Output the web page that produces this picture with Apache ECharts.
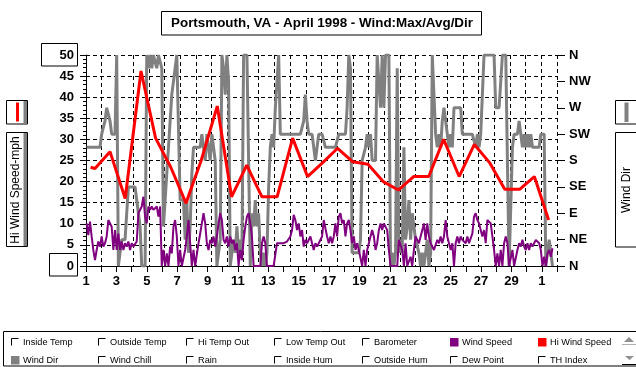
<!DOCTYPE html>
<html><head><meta charset="utf-8">
<script src="https://cdn.jsdelivr.net/npm/echarts@6/dist/echarts.min.js"></script>
<style>html,body{margin:0;padding:0;background:#fff}#c{width:636px;height:367px}</style>
</head><body><div id="c"></div>
<script>
const FONT = '"Liberation Sans", Arial, sans-serif';
const titleText = 'Portsmouth, VA - April 1998 - Wind:Max/Avg/Dir';
const leftAxisName = 'Hi Wind Speed-mph';
const rightAxisName = 'Wind Dir';
const dayTickLabels = ['1','3','5','7','9','11','13','15','17','19','21','23','25','27','29','1'];
const dirLabels = ['N','NE','E','SE','S','SW','W','NW','N'];

// Hi wind speed (mph), one value per day; times in days since Apr 1 00:00
const hiTimes = [0.30,0.59,1.58,2.58,3.62,4.58,5.58,6.58,7.58,8.64,9.58,10.58,11.58,12.58,13.6,14.58,15.58,16.56,17.56,18.56,19.56,20.56,21.56,22.56,23.54,24.56,25.56,26.56,27.56,28.56,29.51,30.45];
const hiSpeed = [23.4,23.1,27.1,16.0,46.2,30.3,23.4,14.9,25.0,37.9,16.4,23.9,16.4,16.4,30.3,21.2,24.5,27.9,24.7,24.1,20.0,18.0,21.2,21.2,30.0,21.2,28.8,24.5,18.2,18.2,21.2,10.9];

// Sampled records: first sample time and spacing (days)
const sampleStart = 0.042;
const sampleStep = 0.1099;

// Wind speed (mph)
const windSpeed = [
10.1,7.3,10.5,7.0,3.8,1.4,3.8,5.8,4.6,7.0,
4.6,5.4,7.0,10.9,10.9,9.3,3.8,8.5,3.8,7.7,
3.8,5.8,3.8,5.4,4.6,5.8,3.8,5.4,4.6,5.0,
5.8,12.5,12.5,14.1,16.4,11.7,10.1,14.1,13.3,14.1,
13.3,13.3,14.1,11.7,14.1,0,3.8,0,3.0,0,
4.6,3.0,9.3,10.9,7.0,0,3.8,0,0,3.8,
7.0,10.9,5.4,0,3.8,0,0,5.4,7.7,10.1,
12.5,10.1,5.4,3.8,6.2,5.4,7.0,4.6,7.0,10.1,
12.5,10.9,6.2,5.4,7.0,4.6,7.0,5.4,6.2,3.8,
5.4,0,3.8,1.4,6.2,9.3,11.7,12.5,10.1,7.0,
0,0,0,0,0,5.4,7.0,5.4,0,0,
0,0,0,0,5.4,5.4,5.4,5.4,5.4,5.4,
5.8,5.8,7.0,8.5,12.1,10.9,8.5,10.1,7.0,8.5,
4.6,6.2,5.4,5.4,7.0,5.4,3.8,5.4,4.6,5.4,
5.4,7.0,10.9,10.9,7.0,5.4,7.0,5.4,7.0,10.1,
7.0,11.7,12.5,10.1,10.9,7.0,10.1,10.9,8.5,5.4,
7.0,3.8,5.4,3.8,3.8,0,3.8,0,3.8,5.4,
7.0,8.5,7.0,3.8,5.4,8.5,10.1,8.5,10.1,10.1,
8.5,3.8,0,0,0,0,0,6.2,6.2,3.8,
0,5.4,0,0,2.2,0,3.8,7.0,7.0,5.4,
7.0,8.5,10.1,6.2,10.1,7.0,5.4,5.4,3.8,3.8,
6.2,5.4,7.0,5.4,7.0,10.9,7.0,5.4,3.8,5.4,
0,5.4,7.0,5.4,7.0,6.2,6.2,5.4,7.0,5.4,
5.4,7.7,11.7,12.5,10.9,10.1,8.5,7.0,8.5,5.4,
10.9,10.9,10.1,7.0,3.8,0,3.0,0,3.8,0,
5.4,7.0,5.4,0,0,3.8,0,0,3.8,5.4,
4.6,6.2,4.6,3.8,5.4,3.8,5.4,4.6,5.4,6.2,
6.2,5.4,3.8,0,2.2,0,3.0,3.8,2.2,4.2
];

// Wind direction (degrees, 0 = N at bottom, 360 = N at top)
const windDir = [
202.5,202.5,202.5,202.5,202.5,202.5,202.5,202.5,202.5,225,
225,247.5,270,270,247.5,225,225,225,360,0,
22.5,45,45,45,45,135,135,135,135,135,
112.5,90,67.5,0,0,0,360,337.5,360,337.5,
360,360,337.5,360,360,337.5,67.5,112.5,157.5,202.5,
247.5,292.5,315,337.5,360,360,112.5,112.5,112.5,45,
112.5,22.5,67.5,157.5,202.5,202.5,202.5,202.5,202.5,225,
202.5,180,225,202.5,180,225,202.5,180,0,22.5,
45,360,337.5,292.5,360,315,0,22.5,45,22.5,
67.5,22.5,45,22.5,360,360,360,360,0,90,
67.5,112.5,67.5,90,22.5,0,22.5,0,22.5,135,
202.5,225,202.5,270,270,360,225,225,225,225,
225,225,225,225,225,225,225,225,225,225,
247.5,292.5,247.5,225,225,225,202.5,180,202.5,225,
225,225,225,202.5,202.5,202.5,202.5,202.5,202.5,202.5,
202.5,225,225,225,225,225,270,360,337.5,22.5,
22.5,22.5,22.5,22.5,45,180,180,202.5,225,202.5,
225,180,180,180,360,360,270,360,270,360,
360,360,0,22.5,0,22.5,337.5,22.5,45,22.5,
202.5,45,67.5,112.5,45,90,67.5,45,45,22.5,
0,22.5,0,22.5,45,0,22.5,360,292.5,225,
202.5,225,202.5,247.5,270,270,225,202.5,225,202.5,
270,270,270,270,270,225,225,225,225,225,
225,225,225,202.5,225,202.5,225,225,360,360,
360,360,360,360,360,270,270,270,270,360,
360,360,360,0,0,202.5,225,225,225,247.5,
225,202.5,225,202.5,225,202.5,225,202.5,202.5,202.5,
202.5,202.5,225,225,225,0,22.5,45,22.5,0
];

const legendRow1 = ['Inside Temp','Outside Temp','Hi Temp Out','Low Temp Out','Barometer','Wind Speed','Hi Wind Speed'];
const legendRow2 = ['Wind Dir','Wind Chill','Rain','Inside Hum','Outside Hum','Dew Point','TH Index'];
const checkedColors = {'Wind Speed':'#800080','Hi Wind Speed':'#ff0000','Wind Dir':'#808080'};

const GRAY = '#808080', PURPLE = '#800080', RED = '#ff0000';

function txt(text, x, y, font, align, valign, extra) {
  return Object.assign({
    type: 'text', x: x, y: y, silent: true,
    style: { text: text, x: 0, y: 0, font: font, fill: '#000',
      align: align, textAlign: align, verticalAlign: valign, textVerticalAlign: valign }
  }, extra || {});
}
function rect(x, y, w, h, fill, stroke, z) {
  return { type: 'rect', silent: true, z: z || 10, shape: { x: x, y: y, width: w, height: h },
    style: { fill: fill, stroke: stroke || null, lineWidth: 1 } };
}

const graphics = [];
// title
graphics.push(rect(161.5, 11.5, 320, 23.5, '#fff', '#000'));
graphics.push(txt(titleText, 322, 23, 'bold 13.4px ' + FONT, 'center', 'middle', { z: 11 }));
// scale boxes
graphics.push(rect(41.5, 43.5, 36, 22.5, 'none', '#000'));
graphics.push(rect(49.5, 253.5, 28, 22.5, 'none', '#000'));
// left icon + name box
graphics.push(rect(6.5, 100.5, 21, 23.5, '#fff', '#000'));
graphics.push(rect(23.5, 101, 3.5, 23, GRAY, null, 11));
graphics.push(rect(16, 102.5, 3, 19, RED, null, 11));
graphics.push(rect(6.5, 132.5, 21, 114, '#fff', '#000'));
graphics.push(rect(23.5, 133, 3.5, 113, GRAY, null, 11));
graphics.push(txt(leftAxisName, 15.5, 190, '12px ' + FONT, 'center', 'middle', { rotation: Math.PI / 2, z: 12 }));
// right icon + name box
graphics.push(rect(615.5, 100.5, 30, 23.5, '#fff', '#000'));
graphics.push(rect(624.5, 102.5, 4, 19.5, GRAY, null, 11));
graphics.push(rect(615.5, 132.5, 30, 114.5, '#fff', '#000'));
graphics.push(txt(rightAxisName, 627, 190, '12px ' + FONT, 'center', 'middle', { rotation: Math.PI / 2, z: 12 }));
// legend panel
graphics.push(rect(3.5, 331.5, 640, 34.5, '#fff', '#000'));
const legendCols = [11, 98, 186, 274, 362, 450, 538];
const legendRowsY = [338, 356];
[legendRow1, legendRow2].forEach(function (row, r) {
  row.forEach(function (name, c) {
    const x = legendCols[c], y = legendRowsY[r];
    if (checkedColors[name]) {
      graphics.push(rect(x, y, 8.5, 8.5, checkedColors[name], null, 11));
    } else {
      graphics.push({ type: 'polyline', silent: true, z: 11,
        shape: { points: [[x + 0.5, y + 7.5], [x + 0.5, y + 0.5], [x + 7.5, y + 0.5]] },
        style: { stroke: '#000', fill: null, lineWidth: 1 } });
    }
    graphics.push(txt(name, x + 12, y + 4.5, '9.2px ' + FONT, 'left', 'middle', { z: 11 }));
  });
});
// scroll arrows
graphics.push({ type: 'polygon', silent: true, z: 11, shape: { points: [[624, 342], [629, 337], [634, 342]] }, style: { fill: '#909090' } });
graphics.push({ type: 'line', silent: true, z: 11, shape: { x1: 622, y1: 344.5, x2: 636, y2: 344.5 }, style: { stroke: '#b0b0b0', lineWidth: 1 } });
graphics.push({ type: 'polygon', silent: true, z: 11, shape: { points: [[625, 356], [634, 356], [629.5, 360]] }, style: { fill: '#909090' } });
graphics.push({ type: 'line', silent: true, z: 11, shape: { x1: 622, y1: 364.5, x2: 636, y2: 364.5 }, style: { stroke: '#000', lineWidth: 1 } });

const labelStyle = { color: '#000', fontWeight: 'bold', fontSize: 13, fontFamily: FONT };

const option = {
  animation: false,
  backgroundColor: '#fff',
  grid: { left: 86, right: 79, top: 55, bottom: 101, containLabel: false },
  xAxis: [
    { type: 'value', min: 0, max: 31, interval: 1, position: 'bottom',
      axisLine: { show: true, onZero: false, lineStyle: { color: '#000', width: 1 } },
      axisTick: { show: true, length: 6, lineStyle: { color: '#000' } },
      axisLabel: Object.assign({ show: true, margin: 9,
        formatter: function (v) { return (v % 2 === 0 && v / 2 < dayTickLabels.length) ? dayTickLabels[v / 2] : ''; } }, labelStyle),
      splitLine: { show: false } },
    { type: 'value', min: 0, max: 30, interval: 1, position: 'top',
      axisLine: { show: false }, axisTick: { show: false }, axisLabel: { show: false },
      splitLine: { show: true, lineStyle: { color: '#000', type: [4, 3], width: 1 } } }
  ],
  yAxis: [
    { type: 'value', min: 0, max: 50, interval: 5, position: 'left',
      axisLine: { show: true, onZero: false, lineStyle: { color: '#000' } },
      axisTick: { show: true, length: 6, lineStyle: { color: '#000' } },
      minorTick: { show: true, splitNumber: 5, length: 3, lineStyle: { color: '#000' } },
      axisLabel: Object.assign({ margin: 12 }, labelStyle),
      splitLine: { show: true, lineStyle: { color: '#000', type: [4, 3], width: 1 } } },
    { type: 'value', min: 0, max: 360, interval: 45, position: 'right',
      axisLine: { show: false, onZero: false },
      axisTick: { show: true, length: 8, lineStyle: { color: '#000' } },
      axisLabel: Object.assign({ margin: 12, formatter: function (v) { return dirLabels[Math.round(v / 45)]; } }, labelStyle),
      splitLine: { show: false } }
  ],
  graphic: { elements: graphics },
  series: [
    { type: 'line', name: 'Wind Dir', xAxisIndex: 0, yAxisIndex: 1, z: 2, silent: true,
      symbol: 'none', showSymbol: false, clip: true,
      lineStyle: { color: GRAY, width: 3, join: 'bevel' },
      data: windDir.map(function (d, i) { return [sampleStart + i * sampleStep, d]; }) },
    { type: 'line', name: 'Wind Speed', xAxisIndex: 0, yAxisIndex: 0, z: 3, silent: true,
      symbol: 'none', showSymbol: false, clip: true,
      lineStyle: { color: PURPLE, width: 2, join: 'bevel' },
      data: windSpeed.map(function (v, i) { return [sampleStart + i * sampleStep, v]; }) },
    { type: 'line', name: 'Hi Wind Speed', xAxisIndex: 0, yAxisIndex: 0, z: 4, silent: true,
      symbol: 'none', showSymbol: false, clip: true,
      lineStyle: { color: RED, width: 3, join: 'bevel' },
      data: hiTimes.map(function (t, i) { return [t, hiSpeed[i]]; }) }
  ]
};
const chart = echarts.init(document.getElementById('c'), null, { renderer: 'canvas', width: 636, height: 367 });
chart.setOption(option);
</script>
</body></html>
